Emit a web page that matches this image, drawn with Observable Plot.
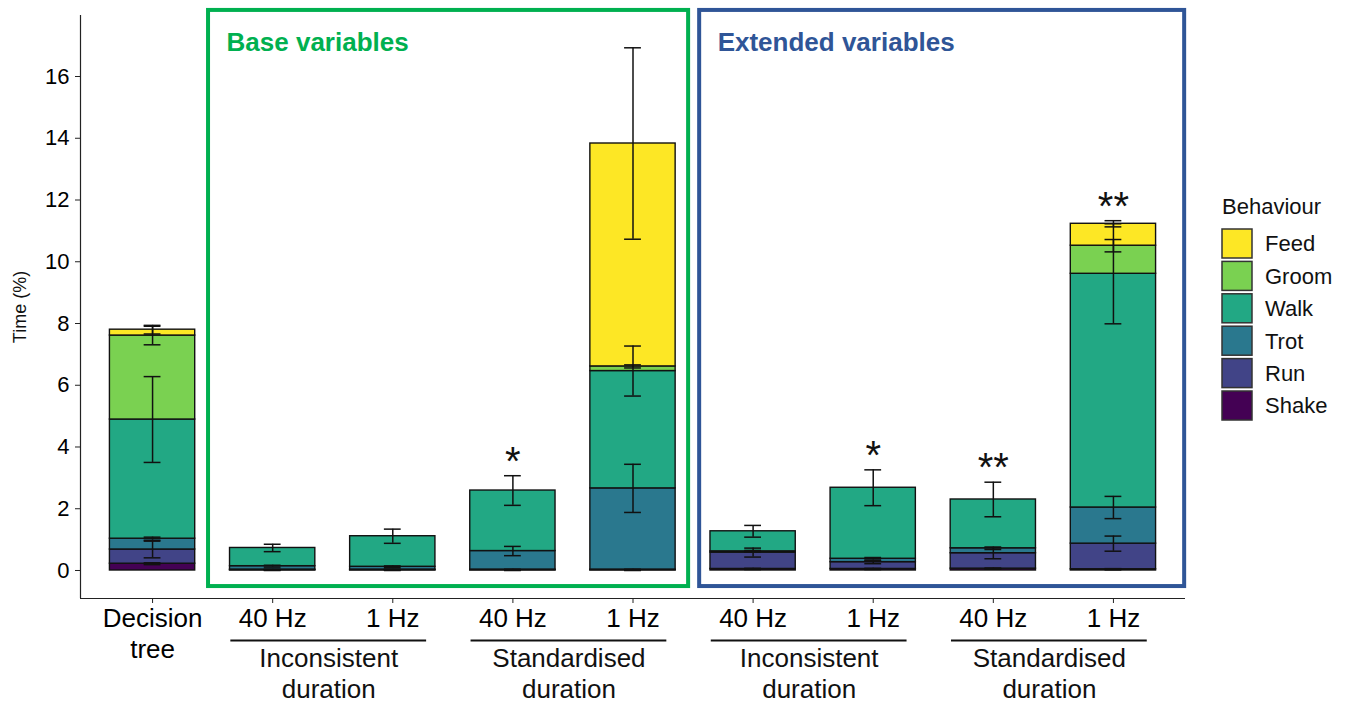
<!DOCTYPE html>
<html>
<head>
<meta charset="utf-8">
<script src="https://cdn.jsdelivr.net/npm/d3@7"></script>
<script src="https://cdn.jsdelivr.net/npm/@observablehq/plot@0.6"></script>
<style>
  body { margin: 0; background: #ffffff; }
  #wrap { position: relative; width: 1347px; height: 704px; overflow: hidden; background: #fff; }
  #chart { position: absolute; left: 0; top: 0; }
  #legend { position: absolute; left: 1200px; top: 0; }
</style>
</head>
<body>
<div id="wrap"><div id="chart"></div><div id="legend"></div></div>
<script>
// ---------------- DATA ----------------
// category tick labels (9 bars, left to right)
const tickLabels = ["Decision\ntree", "40 Hz", "1 Hz", "40 Hz", "1 Hz", "40 Hz", "1 Hz", "40 Hz", "1 Hz"];
// second-level group labels and the bar indices (1-based) they cover
const groupLabels = ["Inconsistent\nduration", "Standardised\nduration", "Inconsistent\nduration", "Standardised\nduration"];
const groupMembers = [[2, 3], [4, 5], [6, 7], [8, 9]];
// panel annotations
const panelTitles = ["Base variables", "Extended variables"];
const panelMembers = [[2, 5], [6, 9]];
// significance marks per bar
const sigLabels = ["", "", "", "*", "", "", "*", "**", "**"];

// behaviours, stacking order bottom -> top
const behaviours = ["Shake", "Run", "Trot", "Walk", "Groom", "Feed"];

// mean time (%) per behaviour for each bar
const shake = [0.22, 0.01, 0.01, 0.01, 0.01, 0.05, 0.05, 0.06, 0.04];
const run   = [0.46, 0.02, 0.02, 0.02, 0.02, 0.53, 0.22, 0.50, 0.83];
const trot  = [0.35, 0.11, 0.09, 0.60, 2.63, 0.04, 0.11, 0.16, 1.17];
const walk  = [3.86, 0.59, 0.99, 1.96, 3.80, 0.65, 2.30, 1.58, 7.57];
const groom = [2.72, 0, 0, 0, 0.15, 0, 0, 0, 0.91];
const feed  = [0.19, 0, 0, 0, 7.22, 0, 0, 0, 0.71];

// standard errors per behaviour for each bar
const shakeSE = [0.03, 0.01, 0.01, 0.01, 0.01, 0.02, 0.02, 0.02, 0.02];
const runSE   = [0.27, 0.01, 0.01, 0.01, 0.01, 0.145, 0.05, 0.18, 0.245];
const trotSE  = [0.05, 0.03, 0.03, 0.15, 0.78, 0.03, 0.04, 0.04, 0.36];
const walkSE  = [1.39, 0.12, 0.23, 0.48, 0.81, 0.19, 0.58, 0.56, 1.62];
const groomSE = [0.30, 0, 0, 0, 0.05, 0, 0, 0, 0.20];
const feedSE  = [0.14, 0, 0, 0, 3.10, 0, 0, 0, 0.10];

const yTicks = [0, 2, 4, 6, 8, 10, 12, 14, 16];

// ---------------- STYLE ----------------
const colors = ["#440154", "#414487", "#2A788E", "#22A884", "#7AD151", "#FDE725"];
const panelColors = ["#00B050", "#2F5597"];
const panelPad = [[0.534, 0.463], [0.445, 0.593]];
const fontFamily = "'Liberation Sans', Arial, Helvetica, sans-serif";
const barHalf = 0.355, capHalf = 0.07;
const xDomain = [0.4, 9.6];
const yDomain = [-0.907, 17.976];
const panelTop = 18.14, panelBottom = -0.52;

// ---------------- TABLES ----------------
const means = [shake, run, trot, walk, groom, feed];
const ses = [shakeSE, runSE, trotSE, walkSE, groomSE, feedSE];
const positions = tickLabels.map((_, i) => i + 1);
const rows = [];
positions.forEach((pos, c) => {
  let cum = 0;
  behaviours.forEach((b, k) => {
    const v = means[k][c];
    rows.push({pos, behaviour: b, y1: cum, y2: cum + v, v, se: ses[k][c]});
    cum += v;
  });
});
const bars = rows.filter(d => d.v > 0);
const errs = rows.filter(d => d.se > 0).map(d => ({pos: d.pos, lo: d.y2 - d.se, hi: d.y2 + d.se}));
const sig = positions.map((pos, c) => ({
  pos, text: sigLabels[c],
  top: d3.max(errs.filter(e => e.pos === pos), e => e.hi)
})).filter(d => d.text);
const groups = groupLabels.map((label, i) => ({label, center: d3.mean(groupMembers[i])}));

const panelMarks = panelTitles.flatMap((title, i) => {
  const x1 = panelMembers[i][0] - panelPad[i][0];
  const x2 = panelMembers[i][1] + panelPad[i][1];
  return [
    Plot.rect([title], {x1, x2, y1: panelBottom, y2: panelTop, fill: "none", stroke: panelColors[i], strokeWidth: 4}),
    Plot.text([title], {x: x1, y: panelTop, text: d => d, dx: 18, dy: 41, textAnchor: "start", lineAnchor: "bottom",
      fontSize: 26, fontWeight: "bold", fill: panelColors[i]})
  ];
});

const chart = Plot.plot({
  width: 1200,
  height: 704,
  marginLeft: 80,
  marginRight: 15,
  marginTop: 15,
  marginBottom: 106,
  x: {domain: xDomain},
  y: {domain: yDomain},
  color: {domain: behaviours, range: colors},
  style: {fontFamily, color: "black", background: "white", overflow: "visible"},
  marks: [
    ...panelMarks,
    Plot.rect(bars, {x1: d => d.pos - barHalf, x2: d => d.pos + barHalf, y1: "y1", y2: "y2",
      fill: "behaviour", stroke: "#111", strokeWidth: 1.4}),
    Plot.ruleX(errs, {x: "pos", y1: "lo", y2: "hi", stroke: "#111", strokeWidth: 1.5}),
    Plot.ruleY(errs, {x1: d => d.pos - capHalf, x2: d => d.pos + capHalf, y: "lo", stroke: "#111", strokeWidth: 1.5}),
    Plot.ruleY(errs, {x1: d => d.pos - capHalf, x2: d => d.pos + capHalf, y: "hi", stroke: "#111", strokeWidth: 1.5}),
    Plot.text(sig, {x: "pos", y: "top", text: "text", dy: -1, lineAnchor: "bottom", fontSize: 40, fill: "#111"}),
    Plot.ruleX([xDomain[0]], {stroke: "#222", strokeWidth: 1.2}),
    Plot.ruleY([yDomain[0]], {stroke: "#222", strokeWidth: 1.2}),
    Plot.axisY({ticks: yTicks, tickSize: 5, tickPadding: 6, fontSize: 22, label: null, stroke: "#222"}),
    Plot.axisX({ticks: positions, tickFormat: i => tickLabels[i - 1], tickSize: 5, tickPadding: 2,
      fontSize: 26, lineHeight: 1.17, label: null, stroke: "#222"}),
    Plot.ruleY(groups, {x1: d => d.center - 0.815, x2: d => d.center + 0.815, y: yDomain[0], dx: -4, dy: 42,
      stroke: "#111", strokeWidth: 2}),
    Plot.text(groups, {x: "center", y: yDomain[0], text: "label", dx: -4, dy: 47, lineAnchor: "top",
      lineHeight: 1.17, fontSize: 26, fill: "#111"}),
    Plot.text(["Time (%)"], {frameAnchor: "left", text: d => d, rotate: -90, dx: -60, textAnchor: "middle",
      fontSize: 18, fill: "#111"})
  ]
});
document.getElementById("chart").appendChild(chart);

// ---------------- LEGEND ----------------
const lsvg = d3.select("#legend").append("svg")
  .attr("width", 147).attr("height", 704)
  .style("font-family", fontFamily);
lsvg.append("text").attr("x", 22).attr("y", 214).attr("font-size", 22).attr("fill", "#111").text("Behaviour");
const legendOrder = behaviours.slice().reverse();
const colorScale = chart.scale("color");
legendOrder.forEach((b, i) => {
  const top = 229 + i * 32.4;
  lsvg.append("rect").attr("x", 22).attr("y", top).attr("width", 30).attr("height", 29)
    .attr("fill", colorScale.apply(b)).attr("stroke", "#333").attr("stroke-width", 1.5);
  lsvg.append("text").attr("x", 65).attr("y", top + 14.5).attr("dy", "0.36em")
    .attr("font-size", 22).attr("fill", "#111").text(b);
});
</script>
</body>
</html>
